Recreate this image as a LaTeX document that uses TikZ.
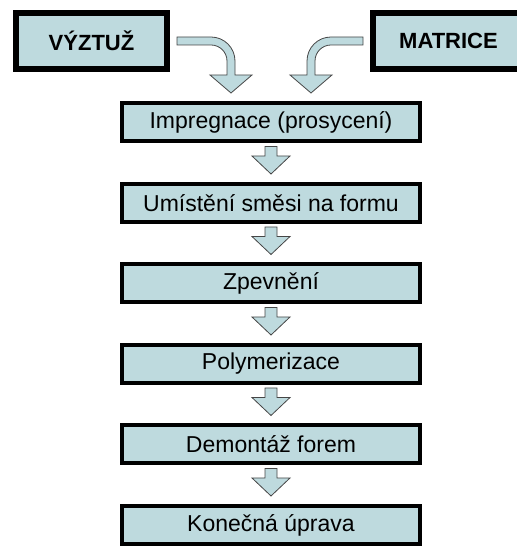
\documentclass[tikz,border=0pt]{standalone}
\usepackage{fontspec}
\setmainfont{Liberation Sans}
\usepackage{tikz}
\usetikzlibrary{calc,positioning}
\definecolor{flfill}{RGB}{190,218,222}
\definecolor{fledge}{RGB}{70,70,70}

\begin{document}
\begin{tikzpicture}[
  x=1pt, y=1pt,
  node distance=38.5pt,
  source/.style={draw=black, line width=6pt, fill=flfill,
    minimum width=151pt, minimum height=56pt, inner sep=0pt,
    font=\fontsize{22}{26}\selectfont\bfseries},
  stage/.style={draw=black, line width=4pt, fill=flfill,
    minimum width=298pt, minimum height=38pt, inner sep=0pt,
    font=\fontsize{23}{27}\selectfont},
  flow/.style={draw=fledge, line width=0.8pt, fill=flfill, line join=miter}
]
  \useasboundingbox (0,0) rectangle (517,547);
  \clip (0,0) rectangle (517,547);

  \node[source] (vyztuz) at (91.5,506) {VÝZTUŽ};
  \node[source] (matrice) at (448.5,506) {MATRICE};

  \node[stage] (impreg) at (271,424.5) {Impregnace (prosycení)};
  \node[stage, below=of impreg] (umisteni) {Umístění směsi na formu};
  \node[stage, below=of umisteni] (zpevneni) {Zpevnění};
  \node[stage, below=of zpevneni] (polymer) {Polymerizace};
  \node[stage, below=of polymer] (demontaz) {Demontáž forem};
  \node[stage, below=of demontaz] (uprava) {Konečná úprava};

  % curved inputs
  \draw[flow] let \p1=(vyztuz.east), \p2=(impreg.north) in
    (\x1+7pt,\y1+4pt) -- (\x2-60pt,\y1+4pt)
    arc[start angle=90, end angle=0, radius=24pt]
    -- (\x2-36pt,\y2+26.5pt) -- (\x2-19pt,\y2+26.5pt) -- (\x2-40pt,\y2+8.5pt)
    -- (\x2-61pt,\y2+26.5pt) -- (\x2-44pt,\y2+26.5pt) -- (\x2-44pt,\y1-20pt)
    arc[start angle=0, end angle=90, radius=16pt]
    -- (\x1+7pt,\y1-4pt) -- cycle;
  \draw[flow] let \p1=(matrice.west), \p2=(impreg.north) in
    (\x1-7pt,\y1+4pt) -- (\x2+60pt,\y1+4pt)
    arc[start angle=90, end angle=180, radius=24pt]
    -- (\x2+36pt,\y2+26.5pt) -- (\x2+19pt,\y2+26.5pt) -- (\x2+40pt,\y2+8.5pt)
    -- (\x2+61pt,\y2+26.5pt) -- (\x2+44pt,\y2+26.5pt) -- (\x2+44pt,\y1-20pt)
    arc[start angle=180, end angle=90, radius=16pt]
    -- (\x1-7pt,\y1-4pt) -- cycle;

  % steps
  \foreach \a/\b in {impreg/umisteni, umisteni/zpevneni, zpevneni/polymer,
                     polymer/demontaz, demontaz/uprava}
    \draw[flow] let \p1=(\a.south), \p2=(\b.north) in
      (\x1-6pt,\y1-3pt) -- (\x1+6pt,\y1-3pt) -- (\x1+6pt,\y2+26pt)
      -- (\x1+19pt,\y2+26pt) -- (\x1,\y2+8pt) -- (\x1-19pt,\y2+26pt)
      -- (\x1-6pt,\y2+26pt) -- cycle;
\end{tikzpicture}
\end{document}
